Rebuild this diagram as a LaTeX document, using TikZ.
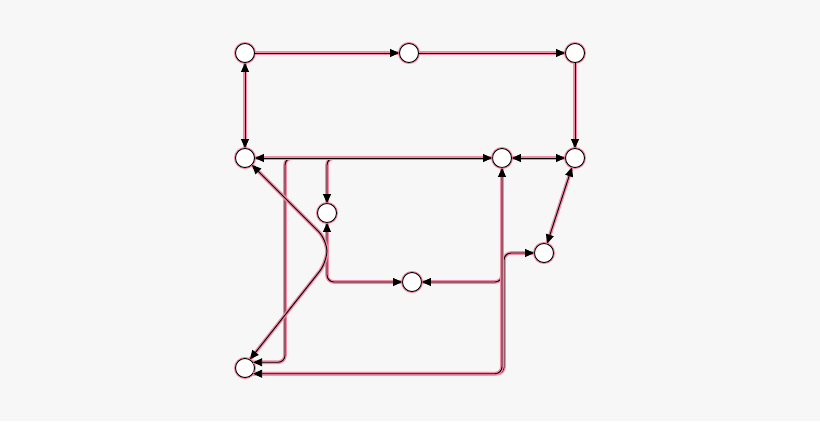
\documentclass[tikz,border=0pt]{standalone}
\usepackage{xcolor}
\usetikzlibrary{arrows.meta}
\definecolor{pagebg}{RGB}{247,247,247}
\definecolor{halo}{RGB}{240,140,165}

\begin{document}
\begin{tikzpicture}[x=1pt, y=-1pt,
    vertex/.style={circle, draw=black, line width=0.9pt, fill=white, minimum size=19pt, inner sep=0pt,
        preaction={draw=halo, line width=3pt}},
    edge/.style={draw=black, line width=0.9pt, rounded corners=7pt,
        preaction={draw=halo, line width=3.6pt, -}},
    >={Triangle[length=9pt, width=8pt]}]
    % Page
    \fill[pagebg] (0,0) rectangle (820,421);

    % Vertices
    \node[vertex] (a) at (245,53) {};
    \node[vertex] (b) at (409,53) {};
    \node[vertex] (c) at (575,53) {};
    \node[vertex] (d) at (245,158) {};
    \node[vertex] (e) at (502,158) {};
    \node[vertex] (f) at (575,158) {};
    \node[vertex] (g) at (327,213) {};
    \node[vertex] (h) at (544,253) {};
    \node[vertex] (i) at (412,282) {};
    \node[vertex] (j) at (245,368) {};

    % Routes out of e along the middle line
    \draw[edge, ->] (e.west) -| (g.north);
    \draw[edge, ->] (e.west) -- (285,158) |- (j.35);

    % Routes along the right vertical
    \draw[edge, ->] (e.south) |- (i.east);
    \draw[edge, ->] (j.-35) -| (504,253) -- (h.west);
    \draw[edge, <->] (j.-35) -| (e.south);

    % Top row and right side
    \draw[edge, ->] (a) -- (b);
    \draw[edge, ->] (b) -- (c);
    \draw[edge, ->] (c) -- (f);
    \draw[edge, <->] (a) -- (d);
    \draw[edge, <->] (d) -- (e);
    \draw[edge, <->] (e) -- (f);
    \draw[edge, <->] (f) -- (h);

    % Left loop
    \draw[edge, <->] (g.south) |- (i.west);
    \draw[edge, <->, rounded corners=12pt] (d.-45) -- (327,240) -- (327,262) -- (j.60);
\end{tikzpicture}
\end{document}
